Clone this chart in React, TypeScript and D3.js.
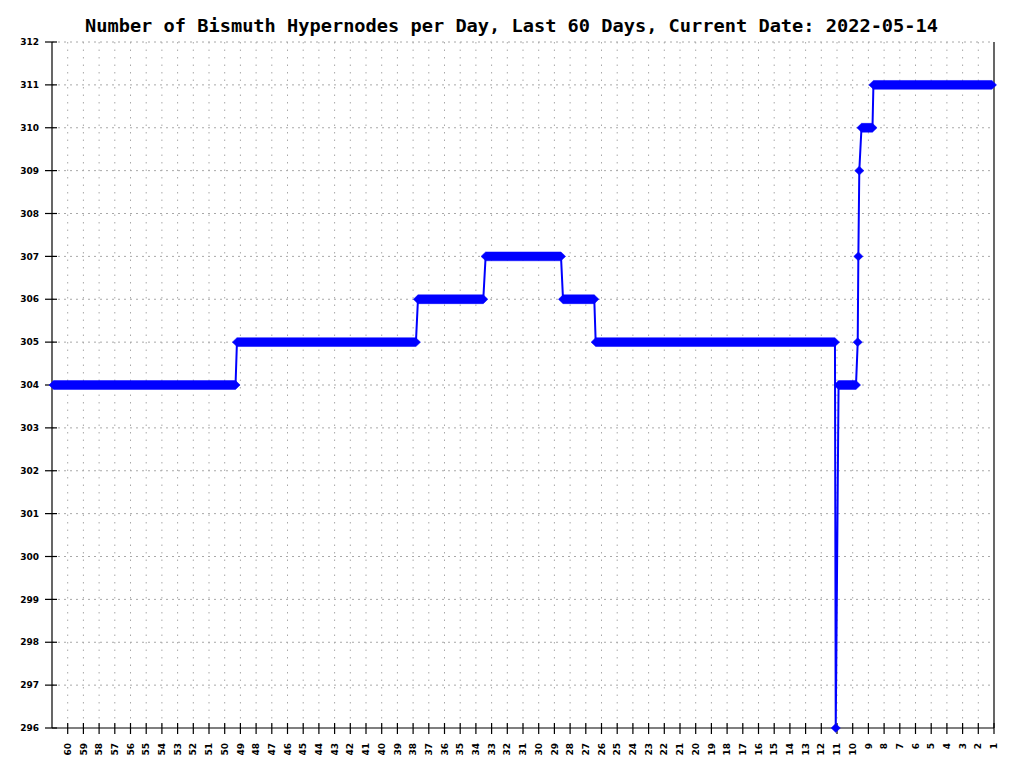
import { useEffect, useRef } from "react";
import * as d3 from "d3";

// niveles escalonados del número de hypernodes (días atrás, inicio/fin de cada tramo)
const levelValues = [304, 305, 306, 307, 306, 305, 296, 304, 305, 307, 309, 310, 311];
const levelStartDaysAgo = [60.9, 49.22, 37.69, 33.38, 28.45, 26.37, 11.08, 10.9, 9.68, 9.64, 9.58, 9.44, 8.68];
const levelEndDaysAgo = [49.31, 37.82, 33.53, 28.58, 26.46, 11.13, 11.08, 9.79, 9.68, 9.64, 9.58, 8.74, 1.13];

const dayLabels = d3.range(60, 0, -1);
const valueTicks = d3.range(296, 313, 1);

const title = "Number of Bismuth Hypernodes per Day, Last 60 Days, Current Date: 2022-05-14";

export default function App() {
    const svgRef = useRef<SVGSVGElement>(null);
    const width = 1024;
    const height = 780;

    useEffect(() => {
        if (!svgRef.current) return;
        const svg = d3.select(svgRef.current);
        svg.selectAll("*").remove();

        const left = 52, right = 994, top = 42, bottom = 728;

        const x = d3.scaleLinear().domain([61, 1]).range([left, right]);
        const y = d3.scaleLinear().domain([296, 312]).range([bottom, top]);

        const labelFont = "DejaVu Sans, sans-serif";

        // grade pontilhada
        svg.append("g")
            .selectAll("line")
            .data(valueTicks.filter((v) => v !== 296))
            .join("line")
            .attr("x1", left)
            .attr("x2", right)
            .attr("y1", (d) => y(d))
            .attr("y2", (d) => y(d))
            .attr("stroke", "#a8a8a8")
            .attr("stroke-dasharray", "2,4");

        svg.append("g")
            .selectAll("line")
            .data(dayLabels.filter((d) => d !== 1))
            .join("line")
            .attr("x1", (d) => x(d))
            .attr("x2", (d) => x(d))
            .attr("y1", top)
            .attr("y2", bottom)
            .attr("stroke", "#a8a8a8")
            .attr("stroke-dasharray", "1.5,6");

        // eixos
        const axes = svg.append("g").attr("stroke", "#000").attr("stroke-width", 1.2);
        axes.append("line").attr("x1", left).attr("x2", left).attr("y1", top).attr("y2", bottom);
        axes.append("line").attr("x1", right).attr("x2", right).attr("y1", top).attr("y2", bottom);
        axes.append("line").attr("x1", left).attr("x2", right).attr("y1", bottom).attr("y2", bottom);

        axes.selectAll(".ytick")
            .data(valueTicks)
            .join("line")
            .attr("class", "ytick")
            .attr("x1", left - 7)
            .attr("x2", left + 5)
            .attr("y1", (d) => y(d))
            .attr("y2", (d) => y(d));

        axes.selectAll(".xtick")
            .data(dayLabels)
            .join("line")
            .attr("class", "xtick")
            .attr("x1", (d) => x(d))
            .attr("x2", (d) => x(d))
            .attr("y1", bottom - 5)
            .attr("y2", bottom + 6);

        svg.append("g")
            .selectAll("text")
            .data(valueTicks)
            .join("text")
            .attr("x", left - 13)
            .attr("y", (d) => y(d))
            .attr("dy", "0.35em")
            .attr("text-anchor", "end")
            .style("font-family", labelFont)
            .style("font-size", "9px")
            .style("font-weight", "bold")
            .text((d) => d);

        svg.append("g")
            .selectAll("text")
            .data(dayLabels)
            .join("text")
            .attr("transform", (d) => `translate(${x(d)},${bottom + 15}) rotate(-90)`)
            .attr("dy", "0.35em")
            .attr("text-anchor", "end")
            .style("font-family", labelFont)
            .style("font-size", "9px")
            .style("font-weight", "bold")
            .text((d) => d);

        // linha fina ligando os pontos
        const pts: [number, number][] = [];
        levelValues.forEach((v, i) => {
            pts.push([levelStartDaysAgo[i], v]);
            if (levelEndDaysAgo[i] !== levelStartDaysAgo[i]) pts.push([levelEndDaysAgo[i], v]);
        });

        const line = d3.line<[number, number]>()
            .x((d) => x(d[0]))
            .y((d) => y(d[1]));

        svg.append("path")
            .attr("d", line(pts) as string)
            .attr("fill", "none")
            .attr("stroke", "#0000ff")
            .attr("stroke-width", 2);

        // marcadores (losangos sobrepostos formam a faixa grossa)
        const hw = 4.6, hh = 4.4;
        svg.append("g")
            .selectAll("polygon")
            .data(levelValues.map((v, i) => ({ v, s: levelStartDaysAgo[i], e: levelEndDaysAgo[i] })))
            .join("polygon")
            .attr("points", (d) => {
                const x1 = x(d.s), x2 = x(d.e), yy = y(d.v);
                return [
                    [x1 - hw, yy],
                    [x1, yy - hh],
                    [x2, yy - hh],
                    [x2 + hw, yy],
                    [x2, yy + hh],
                    [x1, yy + hh],
                ].map((p) => p.join(",")).join(" ");
            })
            .attr("fill", "#0000ff")
            .attr("stroke", "#0000ff")
            .attr("stroke-width", 0.5);

        // título
        svg.append("text")
            .attr("x", 85)
            .attr("y", 32)
            .attr("textLength", 853)
            .attr("lengthAdjust", "spacingAndGlyphs")
            .style("font-family", "DejaVu Sans Mono, monospace")
            .style("font-size", "17px")
            .style("font-weight", "bold")
            .style("fill", "#000")
            .text(title);
    }, []);

    return (
        <div style={{ position: "absolute", left: 0, top: 0, background: "#fff" }}>
            <svg ref={svgRef} width={width} height={height} viewBox={`0 0 ${width} ${height}`} style={{ display: "block" }} />
        </div>
    );
}
